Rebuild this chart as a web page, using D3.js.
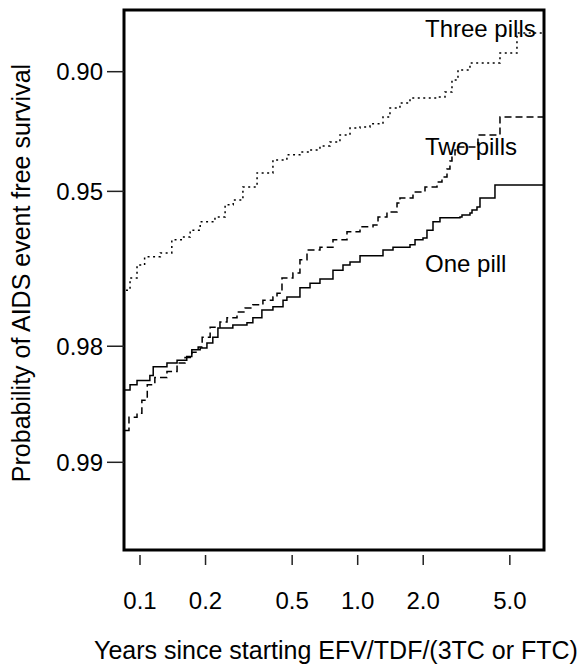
<!DOCTYPE html>
<html>
<head>
<meta charset="utf-8">
<script src="https://cdn.jsdelivr.net/npm/d3@7"></script>
<style>
  html, body { margin: 0; padding: 0; background: #fff; }
  svg { display: block; }
  text { font-family: "Liberation Sans", Arial, "DejaVu Sans", sans-serif; fill: #000; }
</style>
</head>
<body>
<svg id="chart" width="581" height="668"></svg>
<script>
// ---- data (years since start, AIDS event free survival) ----
const onePillTime = [0.0853, 0.0900, 0.0969, 0.111, 0.115, 0.133, 0.148, 0.164, 0.173, 0.189, 0.203, 0.216, 0.228, 0.267, 0.310, 0.330, 0.363, 0.408, 0.454, 0.473, 0.543, 0.604, 0.671, 0.770, 0.856, 0.922, 1.025, 1.307, 1.453, 1.739, 1.834, 1.995, 2.081, 2.218, 2.388, 2.951, 3.014, 3.280, 3.351, 3.532, 3.646, 4.272, 7.1];
const onePillSurv = [0.9846, 0.9841, 0.9837, 0.9832, 0.9823, 0.9819, 0.9816, 0.9812, 0.9804, 0.9802, 0.9796, 0.9789, 0.9777, 0.9773, 0.9770, 0.9763, 0.9752, 0.9747, 0.9737, 0.9732, 0.9717, 0.9709, 0.9702, 0.9686, 0.9676, 0.9670, 0.9658, 0.9646, 0.9640, 0.9635, 0.9624, 0.9620, 0.9602, 0.9582, 0.9572, 0.9570, 0.9565, 0.9560, 0.9552, 0.9544, 0.9519, 0.9481, 0.9481];

const twoPillTime = [0.0853, 0.0890, 0.0969, 0.102, 0.108, 0.117, 0.133, 0.148, 0.161, 0.173, 0.185, 0.193, 0.210, 0.233, 0.251, 0.279, 0.304, 0.330, 0.367, 0.408, 0.426, 0.449, 0.504, 0.543, 0.585, 0.671, 0.770, 0.893, 1.025, 1.176, 1.240, 1.363, 1.516, 1.564, 1.795, 2.038, 2.314, 2.439, 2.572, 2.654, 2.711, 2.799, 2.889, 3.569, 4.505, 7.1];
const twoPillSurv = [0.9879, 0.9869, 0.9866, 0.9855, 0.9841, 0.9834, 0.9828, 0.9819, 0.9813, 0.9807, 0.9801, 0.9789, 0.9776, 0.9769, 0.9763, 0.9755, 0.9749, 0.9744, 0.9737, 0.9732, 0.9726, 0.9700, 0.9691, 0.9666, 0.9646, 0.9640, 0.9624, 0.9606, 0.9594, 0.9590, 0.9570, 0.9557, 0.9533, 0.9519, 0.9502, 0.9487, 0.9472, 0.9456, 0.9430, 0.9403, 0.9381, 0.9363, 0.9352, 0.9305, 0.9229, 0.9229];

const threePillTime = [0.0862, 0.0900, 0.0969, 0.105, 0.124, 0.140, 0.156, 0.170, 0.189, 0.221, 0.246, 0.268, 0.297, 0.345, 0.408, 0.473, 0.543, 0.604, 0.671, 0.746, 0.829, 0.922, 1.025, 1.139, 1.307, 1.407, 1.564, 1.739, 2.314, 2.518, 2.711, 2.889, 3.280, 4.505, 5.391, 7.1];
const threePillSurv = [0.9721, 0.9700, 0.9676, 0.9660, 0.9652, 0.9624, 0.9618, 0.9602, 0.9582, 0.9570, 0.9538, 0.9525, 0.9487, 0.9443, 0.9399, 0.9381, 0.9371, 0.9363, 0.9348, 0.9333, 0.9305, 0.9277, 0.9272, 0.9259, 0.9229, 0.9188, 0.9164, 0.9140, 0.9135, 0.9110, 0.9046, 0.8990, 0.8949, 0.8888, 0.8755, 0.8755];

const seriesNames = ["One pill", "Two pills", "Three pills"];
const xTicks = [0.1, 0.2, 0.5, 1.0, 2.0, 5.0];
const xTickLabels = ["0.1", "0.2", "0.5", "1.0", "2.0", "5.0"];
const yTicks = [0.90, 0.95, 0.98, 0.99];
const yTickLabels = ["0.90", "0.95", "0.98", "0.99"];
const xTitle = "Years since starting EFV/TDF/(3TC or FTC)";
const yTitle = "Probability of AIDS event free survival";

// ---- layout ----
const svg = d3.select("#chart");
const plot = { left: 124, right: 544, top: 10, bottom: 550 };

// log time axis
const x = d3.scaleLog().domain([0.08443, 7.176]).range([plot.left, plot.right]);
// complementary log-log survival axis: log scale on -ln(S)
const yH = d3.scaleLog().domain([0.15271, 0.005930]).range([plot.top, plot.bottom]);
const y = s => yH(-Math.log(s));

svg.append("clipPath").attr("id", "clip")
  .append("rect").attr("x", plot.left).attr("y", plot.top)
  .attr("width", plot.right - plot.left).attr("height", plot.bottom - plot.top);

const line = d3.line().x(d => x(d[0])).y(d => y(d[1])).curve(d3.curveStepAfter);

const series = [
  { name: seriesNames[0], t: onePillTime, s: onePillSurv, dash: null },
  { name: seriesNames[1], t: twoPillTime, s: twoPillSurv, dash: "7,4" },
  { name: seriesNames[2], t: threePillTime, s: threePillSurv, dash: "2,3.5" }
];

const g = svg.append("g").attr("clip-path", "url(#clip)");
series.forEach(sr => {
  const pts = sr.t.map((t, i) => [t, sr.s[i]]);
  const p = g.append("path").datum(pts)
    .attr("d", line)
    .attr("fill", "none")
    .attr("stroke", "#000")
    .attr("stroke-width", 1.5);
  if (sr.dash) p.attr("stroke-dasharray", sr.dash);
});

// box
svg.append("rect")
  .attr("x", plot.left).attr("y", plot.top)
  .attr("width", plot.right - plot.left).attr("height", plot.bottom - plot.top)
  .attr("fill", "none").attr("stroke", "#000").attr("stroke-width", 3);

// x axis ticks & labels
const xAxisG = svg.append("g");
xTicks.forEach((v, i) => {
  xAxisG.append("line")
    .attr("x1", x(v)).attr("x2", x(v)).attr("y1", 555).attr("y2", 565)
    .attr("stroke", "#222").attr("stroke-width", 1.5);
  xAxisG.append("text")
    .attr("x", x(v)).attr("y", 609)
    .attr("text-anchor", "middle").attr("font-size", 24)
    .text(xTickLabels[i]);
});

// y axis ticks & labels
const yAxisG = svg.append("g");
yTicks.forEach((v, i) => {
  yAxisG.append("line")
    .attr("x1", 107).attr("x2", plot.left).attr("y1", y(v)).attr("y2", y(v))
    .attr("stroke", "#222").attr("stroke-width", 1.5);
  yAxisG.append("text")
    .attr("x", 103).attr("y", y(v) + 8.5)
    .attr("text-anchor", "end").attr("font-size", 24)
    .text(yTickLabels[i]);
});

// axis titles
svg.append("text")
  .attr("x", (plot.left + plot.right) / 2 + 2).attr("y", 659)
  .attr("text-anchor", "middle").attr("font-size", 25)
  .text(xTitle);
svg.append("text")
  .attr("transform", `translate(30, ${(plot.top + plot.bottom) / 2 - 7}) rotate(-90)`)
  .attr("text-anchor", "middle").attr("font-size", 25)
  .text(yTitle);

// series labels
const labelPos = { "Three pills": 37, "Two pills": 155, "One pill": 272 };
seriesNames.forEach(n => {
  svg.append("text")
    .attr("x", 425).attr("y", labelPos[n])
    .attr("font-size", 24)
    .text(n);
});
</script>
</body>
</html>
